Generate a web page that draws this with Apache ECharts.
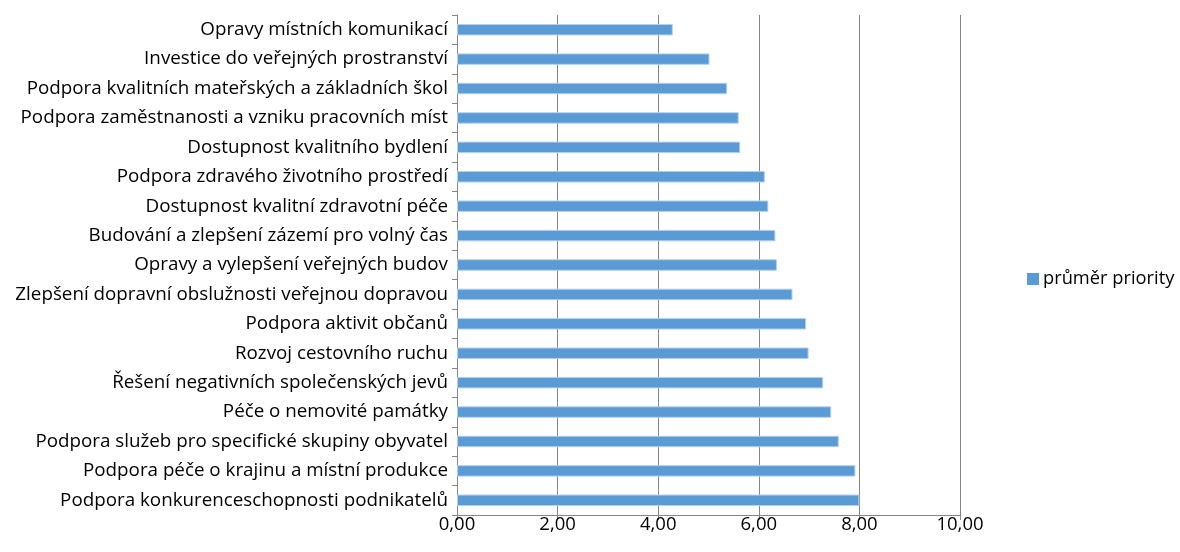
<!DOCTYPE html>
<html>
<head>
<meta charset="utf-8">
<script src="https://cdn.jsdelivr.net/npm/echarts@6/dist/echarts.min.js"></script>
<style>html,body{margin:0;padding:0;background:#fff}#c{width:1180px;height:552px}</style>
</head>
<body>
<div id="c"></div>
<script>
const categories = [
  "Opravy místních komunikací",
  "Investice do veřejných prostranství",
  "Podpora kvalitních mateřských a základních škol",
  "Podpora zaměstnanosti a vzniku pracovních míst",
  "Dostupnost kvalitního bydlení",
  "Podpora zdravého životního prostředí",
  "Dostupnost kvalitní zdravotní péče",
  "Budování a zlepšení zázemí pro volný čas",
  "Opravy a vylepšení veřejných budov",
  "Zlepšení dopravní obslužnosti veřejnou dopravou",
  "Podpora aktivit občanů",
  "Rozvoj cestovního ruchu",
  "Řešení negativních společenských jevů",
  "Péče o nemovité památky",
  "Podpora služeb pro specifické skupiny obyvatel",
  "Podpora péče o krajinu a místní produkce",
  "Podpora konkurenceschopnosti podnikatelů"
];
const seriesName = "průměr priority";
const values = [4.29, 5.02, 5.37, 5.60, 5.63, 6.12, 6.19, 6.33, 6.36, 6.67, 6.94, 6.99, 7.28, 7.44, 7.59, 7.92, 8.00];

const chart = echarts.init(document.getElementById('c'), null, {renderer: 'canvas'});
const font = '"Open Sans", Lato, sans-serif';
chart.setOption({
  animation: false,
  textStyle: {fontFamily: font},
  grid: {left: 457, right: 220, top: 15, bottom: 37},
  legend: {
    data: [seriesName],
    left: 1022, top: 265,
    itemWidth: 12, itemHeight: 12, itemGap: 5,
    icon: 'rect',
    itemStyle: {borderWidth: 0},
    textStyle: {fontFamily: font, fontSize: 18.3, color: '#000', padding: [0,0,0,-1]}
  },
  xAxis: {
    type: 'value', min: 0, max: 10, interval: 2,
    axisLine: {show: true, lineStyle: {color: '#868686', width: 1}},
    axisTick: {show: true, length: 5, lineStyle: {color: '#868686'}},
    splitLine: {show: true, lineStyle: {color: '#868686', width: 1}},
    axisLabel: {
      fontFamily: font, fontSize: 18.5, color: '#000', margin: 0,
      formatter: v => v.toFixed(2).replace('.', ',')
    }
  },
  yAxis: {
    type: 'category', data: categories, inverse: true,
    axisLine: {show: true, lineStyle: {color: '#868686', width: 1}},
    axisTick: {show: true, length: 5, lineStyle: {color: '#868686'}},
    axisLabel: {fontFamily: font, fontSize: 18.8, color: '#000', margin: 9}
  },
  series: [{
    name: seriesName, type: 'bar', data: values,
    barCategoryGap: '61%',
    itemStyle: {color: '#5B9BD5', borderColor: '#B4D0EC', borderWidth: 1}
  }]
});
</script>
</body>
</html>
